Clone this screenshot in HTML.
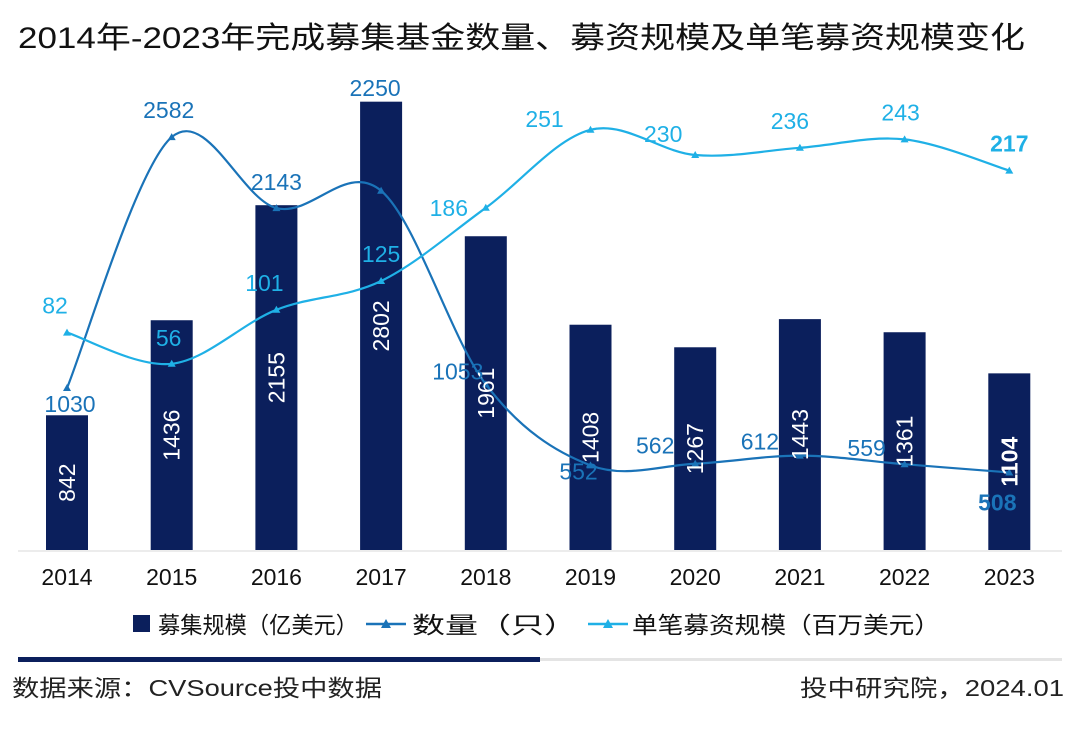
<!DOCTYPE html>
<html><head><meta charset="utf-8"><style>
body{margin:0;background:#fff;}
svg{display:block;font-family:"Liberation Sans","Noto Sans CJK SC",sans-serif;}
</style></head><body>
<svg width="1080" height="734" viewBox="0 0 1080 734" id="c">
<text x="18" y="48" font-size="30" fill="#111" textLength="1007" lengthAdjust="spacingAndGlyphs">2014年-2023年完成募集基金数量、募资规模及单笔募资规模变化</text>
<line x1="18" y1="551" x2="1062" y2="551" stroke="#d9d9d9" stroke-width="1"/>
<g id="bars"></g><g id="lines"></g><g id="labels"></g><g id="xt"></g>
<g>
<rect x="133" y="615" width="17" height="17" fill="#0b1f5c"/>
<text x="158" y="633" font-size="23" fill="#111" textLength="200" lengthAdjust="spacingAndGlyphs">募集规模（亿美元）</text>
<line x1="366" y1="624" x2="406" y2="624" stroke="#1a73b8" stroke-width="2.5"/>
<path d="M381 628 L386 619 L391 628 Z" fill="#1a73b8"/>
<text x="412" y="633" font-size="23" fill="#111" textLength="165" lengthAdjust="spacingAndGlyphs">数量（只）</text>
<line x1="588" y1="624" x2="628" y2="624" stroke="#1fb0e6" stroke-width="2.5"/>
<path d="M603 628 L608 619 L613 628 Z" fill="#1fb0e6"/>
<text x="632" y="633" font-size="23" fill="#111" textLength="308" lengthAdjust="spacingAndGlyphs">单笔募资规模（百万美元）</text>
</g>
<rect x="18" y="657" width="522" height="5" fill="#0b1f5c"/>
<rect x="540" y="658" width="522" height="3" fill="#e4e4e4"/>
<text x="12" y="696" font-size="23" fill="#222" textLength="370" lengthAdjust="spacingAndGlyphs">数据来源：CVSource投中数据</text>
<text x="800" y="696" font-size="23" fill="#222" textLength="264" lengthAdjust="spacingAndGlyphs">投中研究院，2024.01</text>
</svg>
<script>
const years=["2014","2015","2016","2017","2018","2019","2020","2021","2022","2023"];
const scale=[842,1436,2155,2802,1961,1408,1267,1443,1361,1104];
const count=[1030,2582,2143,2250,1053,552,562,612,559,508];
const single=[82,56,101,125,186,251,230,236,243,217];
const cntLblOff=[[3,16],[-3,-27],[0,-26],[-6,-103],[-28,-13],[-12,6],[-40,-18],[-40,-14],[-38,-16],[-12,30]];
const sglLblOff=[[-12,-27],[-3,-26],[-12,-27],[0,-27],[-37,0],[-46,-11],[-32,-21],[-10,-27],[-4,-27],[0,-27]];
const NS="http://www.w3.org/2000/svg";
const xOf=i=>67+i*104.7;
const yBar=v=>550-v*0.16;
const yCnt=v=>554.6-v*0.1617;
const ySgl=v=>431-v*1.2;
function mk(tag,attrs,parent,txt){const e=document.createElementNS(NS,tag);for(const k in attrs)e.setAttribute(k,attrs[k]);if(txt!==undefined)e.textContent=txt;document.getElementById(parent).appendChild(e);return e;}
scale.forEach((v,i)=>{
 const r=mk('rect',{x:xOf(i)-21,y:yBar(v),width:42,height:550-yBar(v),fill:'#0b1f5c'},'bars');
 
 
 const cy=(yBar(v)+550)/2, cx=xOf(i)+8;
 const t=mk('text',{x:cx,y:cy,'font-size':23,fill:'#fff','text-anchor':'middle','font-weight':i==9?'bold':'normal',transform:`rotate(-90 ${cx} ${cy})`},'labels',v);
 
 
 const xt=mk('text',{x:xOf(i),y:585,'font-size':23,fill:'#111','text-anchor':'middle'},'xt',years[i]);
 
 
});
function curve(pts){let d=`M${pts[0][0]},${pts[0][1]}`;const t=1/3;for(let i=0;i<pts.length-1;i++){const p0=pts[i-1]||pts[i],p1=pts[i],p2=pts[i+1],p3=pts[i+2]||p2;
 d+=` C${p1[0]+(p2[0]-p0[0])*t/2},${p1[1]+(p2[1]-p0[1])*t/2} ${p2[0]-(p3[0]-p1[0])*t/2},${p2[1]-(p3[1]-p1[1])*t/2} ${p2[0]},${p2[1]}`;}return d;}
function series(vals,yf,color,name,off){
 const pts=vals.map((v,i)=>[xOf(i),yf(v)]);
 const p=mk('path',{d:curve(pts),fill:'none',stroke:color,'stroke-width':2.2},'lines');
 
 
 pts.forEach((q,i)=>{
  const m=mk('path',{d:`M${q[0]-4},${q[1]+3} L${q[0]},${q[1]-4} L${q[0]+4},${q[1]+3} Z`,fill:color},'lines');
  
  
  const t=mk('text',{x:q[0]+off[i][0],y:q[1]+off[i][1]+8,'font-size':23,fill:color,'text-anchor':'middle','font-weight':i==9?'bold':'normal'},'labels',vals[i]);
  
  
 });
}
series(count,yCnt,'#1a73b8','count',cntLblOff);
series(single,ySgl,'#1fb0e6','single',sglLblOff);
</script>
</body></html>
